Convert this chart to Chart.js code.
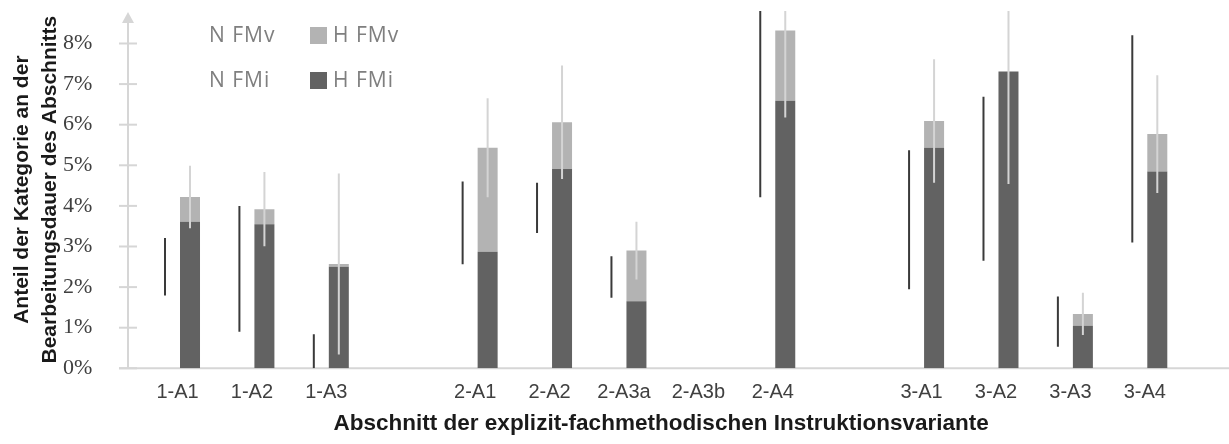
<!DOCTYPE html>
<html><head><meta charset="utf-8">
<script src="https://cdn.jsdelivr.net/npm/chart.js@4/dist/chart.umd.min.js"></script>
<style>
html,body{margin:0;padding:0;background:#fff;}
#wrap{position:relative;width:1229px;height:444px;overflow:hidden;}
canvas{display:block;}
.lg{position:absolute;font-family:"Open Sans";font-size:21px;color:#7f7f7f;line-height:30px;white-space:nowrap;letter-spacing:1px;}
.sw{position:absolute;width:17px;height:17px;}
</style></head><body>
<div id="wrap"><canvas id="c" width="1229" height="444"></canvas><div id="legend"></div></div>
<script>
// ---- data ----
const categories = ['1-A1','1-A2','1-A3','','2-A1','2-A2','2-A3a','2-A3b','2-A4','','3-A1','3-A2','3-A3','3-A4'];
const nFMi = [2.50, 2.45, 0.35, null, 3.58, 3.95, 2.25, null, 7.64, null, 3.66, 4.67, 1.15, 5.65];
const nFMv = [0, 0, 0, null, 0, 0, 0, null, 0, null, 0, 0, 0, 0];
const nErr = [0.71, 1.55, 0.49, null, 1.02, 0.62, 0.51, null, 3.43, null, 1.71, 2.02, 0.62, 2.55];
const hFMi = [3.61, 3.55, 2.50, null, 2.87, 4.91, 1.65, null, 6.59, null, 5.43, 7.31, 1.05, 4.85];
const hFMv = [0.61, 0.37, 0.07, null, 2.56, 1.15, 1.25, null, 1.73, null, 0.66, 0.00, 0.29, 0.92];
const hErr = [0.77, 0.915, 2.23, null, 1.22, 1.40, 0.71, null, 2.14, null, 1.52, 2.77, 0.52, 1.45];
const yTicks = [0, 1, 2, 3, 4, 5, 6, 7, 8];
const yMax = 8.8;
const seriesNames = ['N FMi', 'N FMv', 'H FMi', 'H FMv'];
const xTitle = 'Abschnitt der explizit-fachmethodischen Instruktionsvariante';
const yTitle = ['Anteil der Kategorie an der', 'Bearbeitungsdauer des Abschnitts'];

const DARK = '#626262', LIGHT = '#b3b3b3', AXIS = '#d6d6d6';

const sum = (a, b) => a.map((v, i) => (v == null ? null : v + (b[i] || 0)));
const nTot = sum(nFMi, nFMv);
const hTot = sum(hFMi, hFMv);

const axisPlugin = {
  id: 'axisPlugin',
  beforeDatasetsDraw(chart) {
    const { ctx, chartArea: a, scales: { y } } = chart;
    const ax = a.left - 12.3;
    const y0 = y.getPixelForValue(0);
    ctx.save();
    ctx.strokeStyle = AXIS; ctx.fillStyle = AXIS; ctx.lineWidth = 2;
    ctx.beginPath(); ctx.moveTo(ax, y0); ctx.lineTo(ax, a.top + 10); ctx.stroke();
    ctx.beginPath(); ctx.moveTo(ax - 9, y0); ctx.lineTo(chart.width, y0); ctx.stroke();
    y.ticks.forEach(t => {
      const py = y.getPixelForValue(t.value);
      ctx.beginPath(); ctx.moveTo(ax - 9, py); ctx.lineTo(ax + 9, py); ctx.stroke();
    });
    ctx.beginPath(); ctx.moveTo(ax, a.top + 1); ctx.lineTo(ax - 6, a.top + 12); ctx.lineTo(ax + 6, a.top + 12); ctx.closePath(); ctx.fill();
    ctx.restore();
  }
};

const errorBars = {
  id: 'errorBars',
  afterDatasetsDraw(chart) {
    const { ctx, chartArea: a, scales: { y } } = chart;
    ctx.save();
    ctx.beginPath(); ctx.rect(a.left, a.top, a.right - a.left, a.bottom - a.top); ctx.clip();
    const draw = (dsIndex, totals, errs, color, w) => {
      const meta = chart.getDatasetMeta(dsIndex);
      totals.forEach((t, i) => {
        if (t == null || errs[i] == null) return;
        const x = meta.data[i].x;
        ctx.strokeStyle = color; ctx.lineWidth = w;
        ctx.beginPath();
        ctx.moveTo(x, y.getPixelForValue(Math.max(0, t - errs[i])));
        ctx.lineTo(x, y.getPixelForValue(t + errs[i]));
        ctx.stroke();
      });
    };
    draw(1, nTot, nErr, '#3a3a3a', 2);
    draw(3, hTot, hErr, '#d4d4d4', 2);
    ctx.restore();
  }
};

const chart = new Chart(document.getElementById('c'), {
  type: 'bar',
  data: {
    labels: categories,
    datasets: [
      { label: seriesNames[0], data: nFMi, stack: 'N', backgroundColor: 'rgba(0,0,0,0)' },
      { label: seriesNames[1], data: nFMv, stack: 'N', backgroundColor: 'rgba(0,0,0,0)' },
      { label: seriesNames[2], data: hFMi, stack: 'H', backgroundColor: DARK },
      { label: seriesNames[3], data: hFMv, stack: 'H', backgroundColor: LIGHT }
    ]
  },
  options: {
    responsive: false,
    animation: false,
    devicePixelRatio: 1,
    layout: { padding: { left: 0, right: 47, top: 11, bottom: 0 } },
    categoryPercentage: 50 / 74.4,
    barPercentage: 0.8,
    plugins: { legend: { display: false }, tooltip: { enabled: false } },
    scales: {
      x: {
        stacked: true,
        grid: { display: false },
        border: { display: false },
        ticks: { color: '#404040', font: { family: 'Liberation Sans', size: 20 }, padding: 4, maxRotation: 0, autoSkip: false },
        title: { display: true, text: xTitle, color: '#1a1a1a', font: { family: 'Liberation Sans', size: 22.5, weight: 'bold', lineHeight: 1.2 }, padding: { top: 0, bottom: 6.5 } },
        afterFit(s) { s.height = 75.7; s.paddingLeft = 0; s.paddingRight = 0; }
      },
      y: {
        stacked: true,
        min: 0, max: yMax,
        grid: { display: false },
        border: { display: false },
        afterBuildTicks(s) { s.ticks = yTicks.map(v => ({ value: v })); },
        ticks: { color: '#404040', font: { family: 'Liberation Serif', size: 22 }, padding: 40, callback: v => v + '%' },
        title: { display: true, text: yTitle, color: '#1a1a1a', font: { family: 'Liberation Sans', size: 21, weight: 'bold', lineHeight: 1.34 }, padding: { top: 8, bottom: 0 } },
        afterFit(s) { s.width = 140.3; s.paddingTop = 0; s.paddingBottom = 0; }
      }
    }
  },
  plugins: [axisPlugin, errorBars]
});

// HTML legend (items ordered as in the reference)
const legendItems = [
  { name: seriesNames[1], color: null, x: 186, y: 35 },
  { name: seriesNames[3], color: LIGHT, x: 310, y: 35 },
  { name: seriesNames[0], color: null, x: 186, y: 80 },
  { name: seriesNames[2], color: DARK, x: 310, y: 80 }
];
const lg = document.getElementById('legend');
legendItems.forEach(it => {
  if (it.color) {
    const s = document.createElement('div');
    s.className = 'sw'; s.style.background = it.color;
    s.style.left = it.x + 'px'; s.style.top = (it.y - 8) + 'px';
    lg.appendChild(s);
  }
  const t = document.createElement('span');
  t.className = 'lg'; t.textContent = it.name;
  t.style.left = (it.x + 23) + 'px'; t.style.top = (it.y - 15.6) + 'px';
  lg.appendChild(t);
});
</script>
</body></html>
